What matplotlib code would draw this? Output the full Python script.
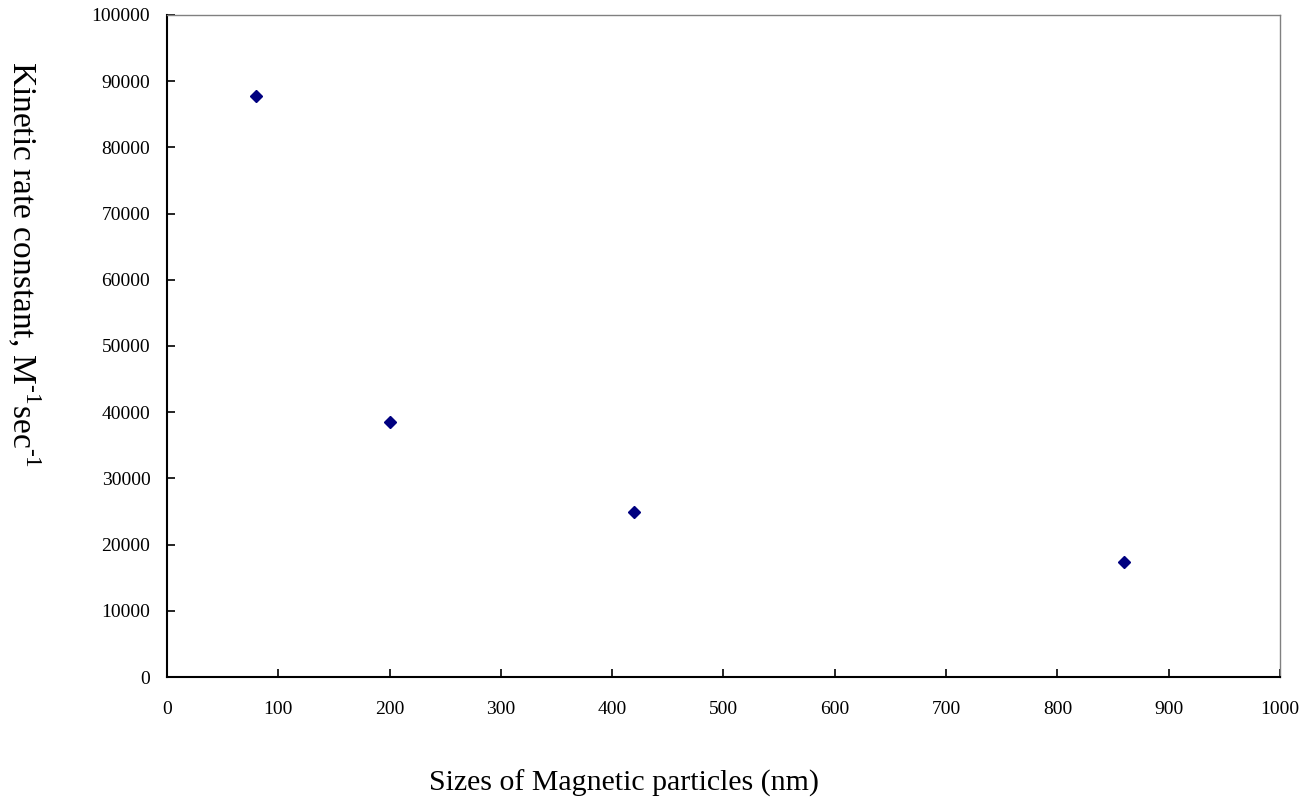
import matplotlib
matplotlib.use("Agg")
import matplotlib.pyplot as plt

sizes_nm = [80, 200, 420, 860]
rate_constants = [87700, 38500, 24900, 17400]
x_ticks = [0, 100, 200, 300, 400, 500, 600, 700, 800, 900, 1000]
y_ticks = [0, 10000, 20000, 30000, 40000, 50000, 60000, 70000, 80000, 90000, 100000]

plt.rcParams['font.family'] = ['Liberation Serif', 'DejaVu Serif']
plt.rcParams['mathtext.fontset'] = 'custom'
plt.rcParams['mathtext.rm'] = 'Liberation Serif'

fig = plt.figure(figsize=(13.16, 8.05), dpi=100)
ax = fig.add_axes([167/1316, 1 - 677/805, (1280 - 167)/1316, (677 - 15)/805])

ax.plot(sizes_nm, rate_constants, linestyle='none', marker='D', markersize=6,
        color='#000080', markeredgecolor='#000080')

ax.set_xlim(0, 1000)
ax.set_ylim(0, 100000)
ax.set_xticks(x_ticks)
ax.set_yticks(y_ticks)
ax.set_xticklabels([str(v) for v in x_ticks])
ax.set_yticklabels([str(v) for v in y_ticks])
ax.tick_params(direction='in', length=6, width=1.2, labelsize=14, colors='black')
ax.tick_params(axis='x', pad=17)
ax.tick_params(axis='y', pad=12)

for s in ['left', 'bottom']:
    ax.spines[s].set_linewidth(1.5)
    ax.spines[s].set_color('black')
for s in ['top', 'right']:
    ax.spines[s].set_linewidth(1.0)
    ax.spines[s].set_color('#808080')

fig.text(624/1316, 1 - 783/805, 'Sizes of Magnetic particles (nm)', ha='center', va='center', fontsize=21.5)
fig.text(23/1316, 1 - 264/805, 'Kinetic rate constant, M$^{\\mathregular{\u2010}1}$sec$^{\\mathregular{\u2010}1}$',
         ha='center', va='center', rotation=270, fontsize=24)

fig.savefig('out.png', dpi=100)
